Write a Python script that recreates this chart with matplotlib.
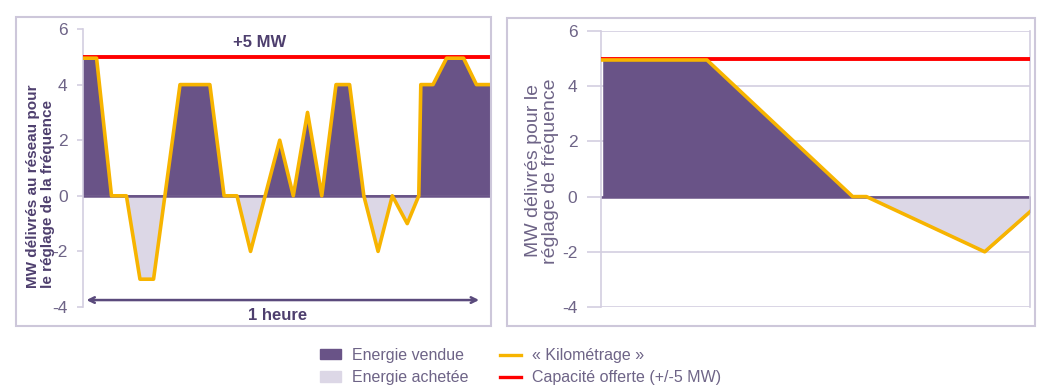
import numpy as np
import matplotlib.pyplot as plt
from matplotlib.patches import Rectangle, Patch
from matplotlib.lines import Line2D

plt.rcParams['font.family'] = ['Liberation Sans', 'DejaVu Sans']
plt.rcParams['axes.unicode_minus'] = False

# left panel: one hour of frequency regulation (x in minutes)
t_hour = [0, 2.0, 4.2, 6.4, 8.4, 10.4, 14.3, 18.7, 20.8, 22.7, 24.7, 29.0, 31.0, 33.1,
          35.2, 37.3, 39.3, 41.4, 43.5, 45.6, 47.8, 49.5, 49.8, 51.6, 53.6, 56.1, 58.0, 60]
mw_hour = [4.95, 4.95, 0, 0, -3, -3, 4, 4, 0, 0, -2, 2, 0, 3,
           0, 4, 4, 0, -2, 0, -1, 0, 4, 4, 4.95, 4.95, 4, 4]

# right panel: slow variation
t_slow = [0, 2.44, 5.85, 6.17, 8.94, 10]
mw_slow = [4.95, 4.95, 0, 0, -2, -0.55]

capacity = 5
yticks = [-4, -2, 0, 2, 4, 6]
legend_labels = ['Energie vendue', 'Energie achetée', '« Kilométrage »', 'Capacité offerte (+/-5 MW)']

DARK = '#695387'
LIGHT = '#dcd7e6'
YELLOW = '#f7b400'
RED = '#ff0000'
TXT = '#6e6487'
FRAME = '#cdc7da'
GRID = '#d3cee0'

W, H = 1047, 389
fig = plt.figure(figsize=(W / 100, H / 100), dpi=100)


def draw(ax, t, mw):
    t = np.array(t)
    mw = np.array(mw)
    ax.fill_between(t, mw, 0, where=mw >= 0, interpolate=True, color=DARK, lw=0, zorder=1)
    ax.fill_between(t, mw, 0, where=mw <= 0, interpolate=True, facecolor=LIGHT,
                    edgecolor=DARK, lw=1, zorder=1)
    ax.axhline(0, color=DARK, lw=1.8, zorder=2)
    ax.axhline(capacity, color=RED, lw=2.8, zorder=3)
    ax.plot(t, mw, color=YELLOW, lw=2.6, zorder=4)
    ax.set_ylim(-4, 6)
    ax.set_yticks(yticks)
    ax.set_xticks([])
    ax.tick_params(axis='y', colors=GRID, labelcolor=TXT, labelsize=12.5, pad=7)
    for s in ['top', 'bottom', 'right']:
        ax.spines[s].set_visible(False)
    ax.spines['left'].set_color(GRID)
    ax.spines['left'].set_linewidth(1.2)
    ax.set_facecolor('none')


# left panel
ax1 = fig.add_axes([83 / W, 1 - 307 / H, 407 / W, 278 / H])
draw(ax1, t_hour, mw_hour)
ax1.set_xlim(0, 60)
ax1.tick_params(axis='y', length=4, width=1.2)
ax1.set_ylabel('MW délivrés au réseau pour\nle réglage de la fréquence', fontsize=11,
               family=['Liberation Sans Narrow', 'Liberation Sans'], multialignment='left',
               fontweight='bold', color='#4e3f6e', linespacing=1.05)
ax1.yaxis.set_label_coords(-0.07, 0.435)
ax1.text(26, 5.5, '+5 MW', ha='center', va='center', fontsize=12, fontweight='bold', color='#4e3f6e')
ax1.annotate('', xy=(0.1, -3.75), xytext=(58.8, -3.75),
             arrowprops=dict(arrowstyle='<->', color='#5a4a7c', lw=1.8), annotation_clip=False)
ax1.text(28.7, -4.3, '1 heure', ha='center', va='center', fontsize=12, fontweight='bold',
         color='#4e3f6e', clip_on=False)

# right panel
ax2 = fig.add_axes([601 / W, 1 - 307 / H, 429 / W, 276 / H])
draw(ax2, t_slow, mw_slow)
ax2.set_xlim(-0.04, 10)
ax2.grid(axis='y', color=GRID, lw=1.2)
ax2.set_axisbelow(True)
ax2.spines['right'].set_visible(True)
ax2.spines['right'].set_color(GRID)
ax2.spines['right'].set_linewidth(1.2)
ax2.tick_params(axis='y', length=10, width=1.2)
ax2.set_ylabel('MW délivrés pour le\nréglage de fréquence', fontsize=14, color=TXT,
               linespacing=1.0)
ax2.yaxis.set_label_coords(-0.098, 0.493)

# panel frames
fig.add_artist(Rectangle((16 / W, 1 - 326 / H), 475 / W, 309 / H, transform=fig.transFigure,
                         fill=False, edgecolor=FRAME, lw=1.5))
fig.add_artist(Rectangle((507 / W, 1 - 326 / H), 528 / W, 308 / H, transform=fig.transFigure,
                         fill=False, edgecolor=FRAME, lw=1.5))

handles = [Patch(color=DARK), Patch(color=LIGHT),
           Line2D([], [], color=YELLOW, lw=2.4), Line2D([], [], color=RED, lw=2.4)]
fig.legend(handles, legend_labels, ncol=2, loc='upper left', bbox_to_anchor=(320 / W, 1 - 348 / H),
           frameon=False, fontsize=11.5, handlelength=1.3, handleheight=0.6, handletextpad=0.7,
           columnspacing=2.0, labelspacing=0.45, borderpad=0, borderaxespad=0, labelcolor=TXT)

fig.savefig('out.png', dpi=100)
